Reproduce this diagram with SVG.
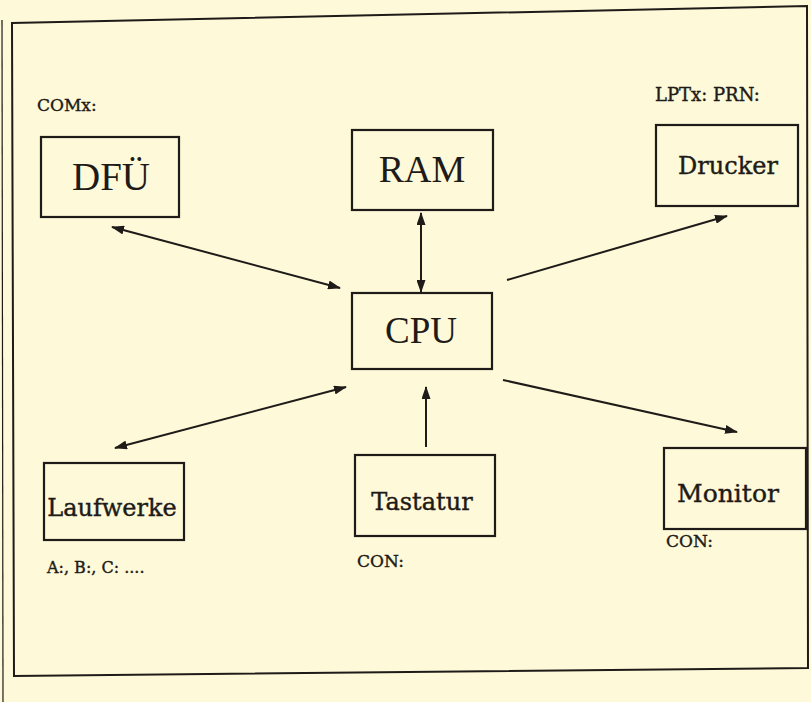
<svg xmlns="http://www.w3.org/2000/svg" width="811" height="702" viewBox="0 0 811 702">
<defs>
<style>
.bg{fill:#fdf9d9}
.box{fill:none;stroke:#1e1b18;stroke-width:2.2}
.frame{fill:none;stroke:#1e1b18;stroke-width:2}
.big{font-family:"Liberation Serif","Times New Roman",serif;fill:#1e1b18;text-anchor:middle}
.mid{font-family:"DejaVu Serif",serif;fill:#1e1b18;stroke:#1e1b18;stroke-width:0.4;text-anchor:middle}
.lbl{font-family:"DejaVu Serif",serif;fill:#1e1b18;stroke:#1e1b18;stroke-width:0.4}
.con{stroke:#1e1b18;stroke-width:2;fill:none}
</style>
<marker id="ah" viewBox="0 0 13 9" refX="12" refY="4.5" markerWidth="13" markerHeight="9" markerUnits="userSpaceOnUse" orient="auto-start-reverse">
<path d="M0,0 L13,4.5 L0,9 Z" fill="#1e1b18"/>
</marker>
</defs>
<rect class="bg" x="0" y="0" width="811" height="702"/>
<polygon class="frame" points="12,23 807,6 808,668 14,676"/>
<line x1="2" y1="20" x2="3" y2="702" stroke="#1e1b18" stroke-width="1.2"/>

<g id="connectors">
<line class="con" x1="112" y1="227" x2="340" y2="288" marker-start="url(#ah)" marker-end="url(#ah)"/>
<line class="con" x1="421" y1="213" x2="421" y2="292" marker-start="url(#ah)" marker-end="url(#ah)"/>
<line class="con" x1="507" y1="280" x2="727" y2="216" marker-end="url(#ah)"/>
<line class="con" x1="115" y1="448" x2="346" y2="387" marker-start="url(#ah)" marker-end="url(#ah)"/>
<line class="con" x1="503" y1="380" x2="737" y2="432" marker-end="url(#ah)"/>
<line class="con" x1="426" y1="447" x2="426" y2="387" marker-end="url(#ah)"/>
</g>

<g id="dfue">
<rect class="box" x="41" y="137" width="138" height="80"/>
<text class="big" x="111" y="190" font-size="39">DFÜ</text>
<text class="lbl" x="37" y="111" font-size="17">COMx:</text>
</g>
<g id="ram">
<rect class="box" x="352" y="130" width="141" height="80"/>
<text class="big" x="422" y="182" font-size="38">RAM</text>
</g>
<g id="drucker">
<rect class="box" x="656" y="125" width="142" height="81"/>
<text class="mid" x="728" y="174" font-size="24">Drucker</text>
<text class="lbl" x="655" y="101" font-size="18">LPTx: PRN:</text>
</g>
<g id="cpu">
<rect class="box" x="352" y="293" width="140" height="76"/>
<text class="big" x="421" y="343" font-size="37">CPU</text>
</g>
<g id="laufwerke">
<rect class="box" x="44" y="463" width="140" height="77"/>
<text class="mid" x="112" y="516" font-size="24">Laufwerke</text>
<text class="lbl" x="47" y="573" font-size="16">A:, B:, C: ....</text>
</g>
<g id="tastatur">
<rect class="box" x="355" y="455" width="140" height="81"/>
<text class="mid" x="422" y="510" font-size="24">Tastatur</text>
<text class="lbl" x="357" y="567" font-size="17">CON:</text>
</g>
<g id="monitor">
<rect class="box" x="664" y="448" width="142" height="81"/>
<text class="mid" x="728" y="502" font-size="25">Monitor</text>
<text class="lbl" x="666" y="547" font-size="17">CON:</text>
</g>
</svg>
